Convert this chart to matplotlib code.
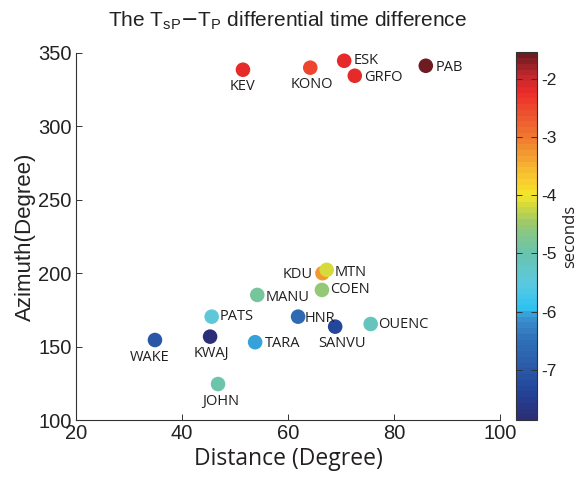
import numpy as np
import matplotlib
matplotlib.use("Agg")
import matplotlib.pyplot as plt
from matplotlib.colors import LinearSegmentedColormap, Normalize

# station data
stations = ["KEV", "KONO", "ESK", "GRFO", "PAB", "KDU", "MTN", "COEN", "MANU",
            "PATS", "HNR", "SANVU", "OUENC", "WAKE", "KWAJ", "TARA", "JOHN"]
distance = [51.5, 64.2, 70.6, 72.6, 86.0, 66.5, 67.3, 66.4, 54.2,
            45.6, 61.9, 68.9, 75.6, 34.9, 45.3, 53.8, 46.8]
azimuth = [338.6, 340.0, 344.7, 334.5, 341.3, 200.0, 202.3, 188.6, 185.2,
           170.4, 170.4, 163.6, 165.4, 154.5, 156.8, 153.0, 124.5]
dt = [-2.2, -2.5, -2.2, -2.2, -1.6, -3.3, -4.2, -4.6, -4.9,
      -5.4, -6.6, -7.3, -5.1, -7.0, -7.8, -6.0, -5.0]

cb_ticks = [-7, -6, -5, -4, -3, -2]
cb_ticklabels = ["-7", "-6", "-5", "-4", "-3", "-2"]

# label placement: (dx, dy) in points, ha, va
label_pos = {
    "KEV": (0, -7, "center", "top"),
    "KONO": (1, -7, "center", "top"),
    "ESK": (7, 0, "left", "center"),
    "GRFO": (7, -1, "left", "center"),
    "PAB": (7, -1, "left", "center"),
    "KDU": (-7, -1, "right", "center"),
    "MTN": (6, -2, "left", "center"),
    "COEN": (6, 0, "left", "center"),
    "MANU": (6, -2, "left", "center"),
    "PATS": (6, 0, "left", "center"),
    "HNR": (5, -1, "left", "center"),
    "SANVU": (5, -7, "center", "top"),
    "OUENC": (5, 0, "left", "center"),
    "WAKE": (-4, -7, "center", "top"),
    "KWAJ": (1, -7, "center", "top"),
    "TARA": (7, -1, "left", "center"),
    "JOHN": (2, -7, "center", "top"),
}

vmin, vmax = -7.86, -1.55
anchors = [(-7.86, "#2b2f78"), (-7.4, "#23449a"), (-7.0, "#2a5aa8"), (-6.5, "#3070b8"),
           (-6.1, "#3a95d0"), (-5.95, "#2ec4f2"), (-5.5, "#5ec8dc"), (-5.0, "#68c4b0"),
           (-4.5, "#98c870"), (-4.2, "#cdd840"), (-4.0, "#f5e62a"), (-3.6, "#f8c030"),
           (-3.0, "#f07a30"), (-2.6, "#ee5530"), (-2.2, "#ee2a2a"), (-1.9, "#c0282d"),
           (-1.55, "#6e1c22")]
cmap = LinearSegmentedColormap.from_list(
    "tsp", [((v - vmin) / (vmax - vmin), c) for v, c in anchors], N=64)
norm = Normalize(vmin=vmin, vmax=vmax)

tick_font = "Liberation Sans"
label_font = "Open Sans"

fig = plt.figure(figsize=(5.81, 4.84), dpi=100)
ax = fig.add_axes([0.1308, 0.1322, 0.7298, 0.7583])
cax = fig.add_axes([0.888, 0.1322, 0.036, 0.7595])

sc = ax.scatter(distance, azimuth, c=dt, cmap=cmap, norm=norm, s=110, edgecolors="none", zorder=3)

for name, x, y in zip(stations, distance, azimuth):
    dx, dy, ha, va = label_pos[name]
    ax.annotate(name, (x, y), xytext=(dx, dy), textcoords="offset points",
                ha=ha, va=va, fontsize=10.5, family=label_font, color="#231f20")

ax.set_xlim(20, 100)
ax.set_ylim(100, 350)
ax.set_xticks([20, 40, 60, 80, 100])
ax.set_yticks([100, 150, 200, 250, 300, 350])
for s in ["top", "right"]:
    ax.spines[s].set_visible(False)
for s in ["left", "bottom"]:
    ax.spines[s].set_color("#333333")
    ax.spines[s].set_linewidth(0.8)
ax.tick_params(direction="in", length=4, width=0.7, color="#333333", labelsize=14.5, pad=3)
for lab in ax.get_xticklabels() + ax.get_yticklabels():
    lab.set_family(tick_font)
    lab.set_color("#222222")

ax.set_xlabel("Distance (Degree)", fontsize=16.5, family=label_font, color="#231f20", labelpad=3)
ax.set_ylabel("Azimuth(Degree)", fontsize=16, family=tick_font, color="#222222", labelpad=2)
ax.set_title(r"The T$_{\mathregular{sP}}$$-$T$_{\mathregular{P}}$ differential time difference",
             fontsize=15, family=tick_font, color="#222222", pad=19)

cb = fig.colorbar(sc, cax=cax)
cb.set_ticks(cb_ticks)
cb.set_ticklabels(cb_ticklabels)
cb.ax.tick_params(direction="in", length=4, width=0.7, labelsize=12.5, left=True, right=True,
                  color="#333333", pad=3)
for lab in cb.ax.get_yticklabels():
    lab.set_family(tick_font)
    lab.set_color("#222222")
cb.set_label("seconds", fontsize=12, family=label_font, color="#231f20", labelpad=4)
cb.outline.set_edgecolor("#333333")
cb.outline.set_linewidth(0.8)

fig.savefig("out.png", dpi=100)
